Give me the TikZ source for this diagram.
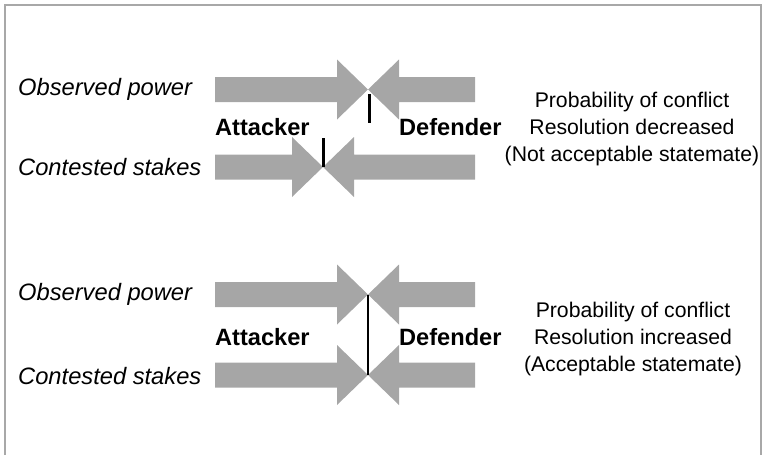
\documentclass[tikz,border=0pt]{standalone}
\usepackage{fontspec}
\setmainfont{Liberation Sans}
\definecolor{arrgray}{HTML}{A6A6A6}
\definecolor{framegray}{HTML}{A8A8A8}
\newcommand{\blockarrow}[4]{% tail x, tip x, y, head base x
  \fill[arrgray] (#1,#3-12.5) -- (#4,#3-12.5) -- (#4,#3-30) -- (#2,#3) -- (#4,#3+30) -- (#4,#3+12.5) -- (#1,#3+12.5) -- cycle;}
\tikzset{
  lbl/.style={anchor=west, inner sep=0pt, font=\fontsize{23.7}{28}\selectfont\itshape},
  side/.style={anchor=west, inner sep=0pt, font=\fontsize{23.6}{28}\selectfont\bfseries},
  note/.style={align=center, inner sep=0pt, font=\fontsize{21.2}{26.7}\selectfont},
  tick/.style={line width=3pt, black},
}
\begin{document}
\begin{tikzpicture}[x=1pt,y=-1pt]
\useasboundingbox (0,0) rectangle (762,455);
\draw[framegray, line width=2pt] (5,455) -- (5,5) -- (761,5) -- (761,455);
% upper diagram
\blockarrow{215}{368}{89.5}{337}
\blockarrow{475}{368}{89.5}{399}
\blockarrow{215}{323}{167}{292}
\blockarrow{475}{323}{167}{354}
\coordinate (t1a) at (369,94); \coordinate (t1b) at (369,123);
\draw[tick] (t1a) -- (t1b);
\coordinate (t2a) at (323,138); \coordinate (t2b) at (323,167);
\draw[tick] (t2a) -- (t2b);
\node[lbl] (op1) at (18,89) {Observed power};
\node[lbl] (cs1) at (18,167) {Contested stakes};
\node[side] (at1) at (215,127) {Attacker};
\node[side] (de1) at (399,127) {Defender};
\node[note] (n1) at (632,129) {Probability of conflict\\Resolution decreased\\(Not acceptable statemate)};
% lower diagram
\blockarrow{215}{368}{294.5}{337}
\blockarrow{475}{368}{294.5}{399}
\blockarrow{215}{368}{375}{337}
\blockarrow{475}{368}{375}{399}
\coordinate (t3a) at (368,294.5); \coordinate (t3b) at (368,375);
\draw[tick, line width=2.5pt] (t3a) -- (t3b);
\node[lbl] (op2) at (18,294) {Observed power};
\node[lbl] (cs2) at (18,376) {Contested stakes};
\node[side] (at2) at (215,337) {Attacker};
\node[side] (de2) at (399,337) {Defender};
\node[note] (n2) at (633,339) {Probability of conflict\\Resolution increased\\(Acceptable statemate)};
\end{tikzpicture}
\end{document}
